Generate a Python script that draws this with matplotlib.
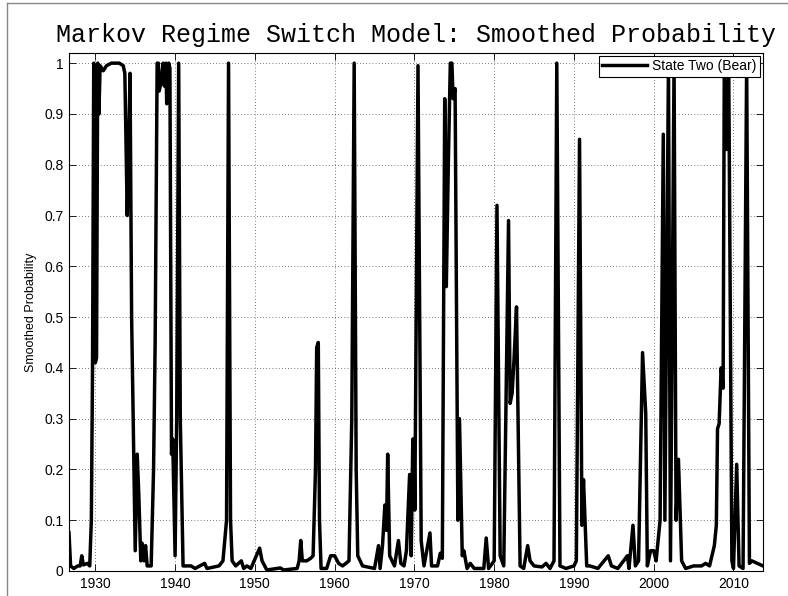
import matplotlib
matplotlib.use("Agg")
import matplotlib.pyplot as plt
from matplotlib.lines import Line2D

# ---------------------------------------------------
# 1. DATA
# ---------------------------------------------------
years = [
    1926.7, 1926.9, 1927.3, 1927.8, 1928.1, 1928.3, 1928.5, 1929.0, 1929.3, 1929.5,
    1929.65, 1929.8, 1930.0, 1930.15, 1930.3, 1930.45, 1930.6, 1931.0, 1931.4, 1932.0,
    1933.0, 1933.5, 1933.7, 1934.0, 1934.2, 1934.35, 1934.55, 1935.0, 1935.25, 1935.45,
    1935.7, 1935.85, 1936.1, 1936.3, 1936.5, 1937.0, 1937.3, 1937.5, 1937.75, 1937.9,
    1938.0, 1938.2, 1938.5, 1938.65, 1938.85, 1938.95, 1939.2, 1939.35, 1939.55, 1939.7,
    1940.0, 1940.2, 1940.45, 1940.65, 1941.0, 1942.0, 1942.5, 1943.7, 1944.0, 1945.5,
    1946.0, 1946.45, 1946.7, 1946.95, 1947.15, 1947.6, 1948.3, 1948.6, 1949.0, 1949.5,
    1950.6, 1950.9, 1951.5, 1953.2, 1953.6, 1955.3, 1955.55, 1955.75, 1955.95, 1956.5,
    1957.0, 1957.3, 1957.6, 1957.75, 1957.95, 1958.1, 1958.3, 1959.0, 1959.5, 1960.0,
    1960.5, 1961.0, 1961.8, 1962.15, 1962.45, 1962.7, 1962.9, 1963.5, 1965.0, 1965.5,
    1965.7, 1966.0, 1966.3, 1966.5, 1966.65, 1966.9, 1967.5, 1968.0, 1968.3, 1968.7,
    1969.0, 1969.4, 1969.6, 1969.8, 1969.95, 1970.05, 1970.45, 1970.85, 1971.2, 1971.95,
    1972.15, 1972.9, 1973.25, 1973.5, 1973.8, 1974.0, 1974.25, 1974.5, 1974.7, 1974.85,
    1975.1, 1975.45, 1975.65, 1976.0, 1976.2, 1976.6, 1977.0, 1977.5, 1978.7, 1979.0,
    1979.3, 1980.0, 1980.35, 1980.75, 1981.2, 1981.8, 1982.0, 1982.25, 1982.5, 1982.8,
    1983.25, 1983.7, 1984.2, 1984.5, 1985.0, 1986.0, 1986.5, 1987.0, 1987.5, 1987.85,
    1988.25, 1989.0, 1990.0, 1990.3, 1990.7, 1991.0, 1991.2, 1991.6, 1992.0, 1993.0,
    1994.3, 1994.7, 1995.5, 1996.7, 1996.9, 1997.4, 1997.7, 1998.1, 1998.6, 1999.0,
    1999.2, 1999.6, 2000.0, 2000.3, 2000.8, 2001.2, 2001.4, 2001.85, 2002.1, 2002.55,
    2002.8, 2003.1, 2003.5, 2004.0, 2005.0, 2006.0, 2006.5, 2007.0, 2007.6, 2007.85,
    2008.0, 2008.2, 2008.45, 2008.7, 2008.85, 2009.1, 2009.4, 2009.8, 2010.0, 2010.4,
    2010.7, 2011.2, 2011.65, 2012.0, 2012.3, 2013.0, 2013.7,
]
prob_bear = [
    0.075, 0.01, 0.005, 0.01, 0.01, 0.03, 0.012, 0.015, 0.01, 0.1,
    0.4, 1.0, 0.41, 0.42, 1.0, 0.9, 0.995, 0.985, 0.995, 1.0,
    1.0, 0.995, 0.98, 0.70, 0.85, 0.98, 0.5, 0.04, 0.23, 0.15,
    0.02, 0.055, 0.02, 0.05, 0.01, 0.01, 0.2, 0.45, 1.0, 1.0,
    0.945, 0.96, 1.0, 0.955, 1.0, 0.92, 1.0, 0.99, 0.23, 0.26,
    0.03, 0.3, 1.0, 0.3, 0.01, 0.01, 0.005, 0.015, 0.005, 0.01,
    0.02, 0.1, 1.0, 0.1, 0.02, 0.01, 0.02, 0.005, 0.01, 0.005,
    0.045, 0.02, 0.002, 0.006, 0.002, 0.005, 0.02, 0.06, 0.02, 0.02,
    0.025, 0.03, 0.2, 0.44, 0.45, 0.1, 0.005, 0.005, 0.03, 0.03,
    0.015, 0.01, 0.02, 0.3, 1.0, 0.2, 0.03, 0.01, 0.005, 0.05,
    0.005, 0.05, 0.13, 0.08, 0.23, 0.03, 0.01, 0.06, 0.015, 0.01,
    0.04, 0.19, 0.03, 0.26, 0.25, 0.12, 0.995, 0.06, 0.01, 0.075,
    0.01, 0.01, 0.035, 0.025, 0.93, 0.56, 0.8, 1.0, 1.0, 0.93,
    0.95, 0.1, 0.3, 0.03, 0.04, 0.005, 0.015, 0.005, 0.005, 0.065,
    0.005, 0.02, 0.72, 0.03, 0.01, 0.69, 0.33, 0.35, 0.42, 0.52,
    0.01, 0.005, 0.05, 0.02, 0.01, 0.008, 0.015, 0.005, 0.02, 1.0,
    0.01, 0.005, 0.01, 0.02, 0.85, 0.09, 0.18, 0.01, 0.01, 0.005,
    0.03, 0.01, 0.005, 0.03, 0.005, 0.09, 0.01, 0.02, 0.43, 0.31,
    0.01, 0.04, 0.04, 0.02, 0.1, 0.86, 0.1, 1.0, 0.02, 1.0,
    0.1, 0.22, 0.02, 0.005, 0.01, 0.01, 0.015, 0.01, 0.05, 0.09,
    0.28, 0.29, 0.4, 0.36, 1.0, 0.83, 1.0, 0.02, 0.005, 0.21,
    0.01, 0.005, 1.0, 0.015, 0.02, 0.015, 0.01,
]
xticks = [1930, 1940, 1950, 1960, 1970, 1980, 1990, 2000, 2010]
yticks = [0, 0.1, 0.2, 0.3, 0.4, 0.5, 0.6, 0.7, 0.8, 0.9, 1]
ytick_labels = ['0', '0.1', '0.2', '0.3', '0.4', '0.5', '0.6', '0.7', '0.8', '0.9', '1']

# ---------------------------------------------------
# 2. FIGURE (MATLAB-like look)
# ---------------------------------------------------
plt.rcParams['font.family'] = ['Liberation Sans', 'DejaVu Sans']

W, H = 788, 596
fig = plt.figure(figsize=(W / 100, H / 100), dpi=100)
ax = fig.add_axes([69 / W, 1 - 571 / H, (763 - 69) / W, (571 - 53) / H])

ax.plot(years, prob_bear, color='k', lw=2.5, label='State Two (Bear)')

ax.set_xlim(1926.7, 2013.7)
ax.set_ylim(0, 1.02)
ax.set_xticks(xticks)
ax.set_yticks(yticks)
ax.set_yticklabels(ytick_labels)
ax.tick_params(direction='in', top=True, right=True, length=5, width=0.6,
               labelsize=10, pad=4)
ax.grid(True, color='k', linestyle=(0, (1, 3.5)), lw=0.5)
for s in ax.spines.values():
    s.set_linewidth(0.8)

ax.set_ylabel('Smoothed Probability', fontsize=9, labelpad=5)
ax.set_title('Markov Regime Switch Model: Smoothed Probability',
             family='Liberation Mono', fontsize=18, pad=8)

leg = ax.legend(loc='upper right', fontsize=10, fancybox=False, framealpha=1,
                edgecolor='k', handlelength=3.2, borderaxespad=0.2,
                borderpad=0.25, handletextpad=0.4)
leg.get_frame().set_linewidth(0.8)

# gray screenshot frame on left and top edge
fig.add_artist(Line2D([7 / W, 7 / W], [0, 1 - 3 / H], color='#888888', lw=1))
fig.add_artist(Line2D([7 / W, 1], [1 - 3 / H, 1 - 3 / H], color='#888888', lw=1))

fig.savefig('out.png', dpi=100)
